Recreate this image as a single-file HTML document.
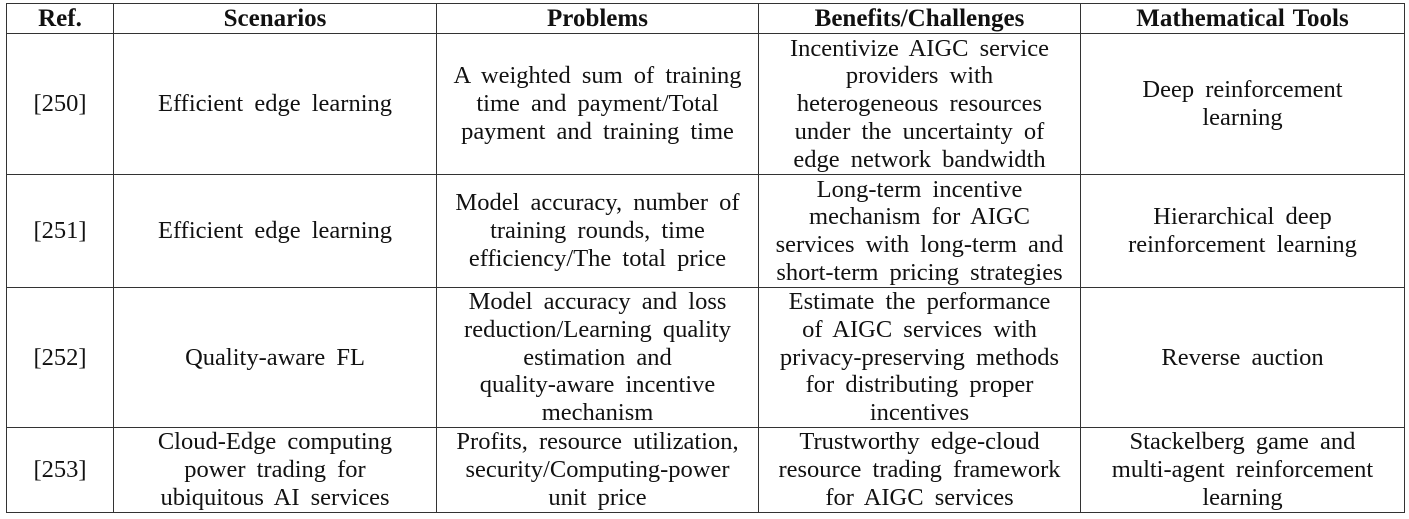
<!DOCTYPE html>
<html><head><style>
html,body{margin:0;padding:0;background:#fff;width:1409px;height:519px;overflow:hidden}
table{position:absolute;left:6px;top:3px;border-collapse:collapse;font-family:"Liberation Serif",serif;font-size:24.5px;word-spacing:5px;color:#111;line-height:27.7px}
td,th{border:1.5px solid #333;text-align:center;vertical-align:middle;padding:0 2px;white-space:nowrap}
th{font-weight:bold;height:29px;line-height:24px;font-size:25px;word-spacing:2px}
</style></head><body>
<table>
<colgroup><col style="width:107px"><col style="width:323px"><col style="width:322px"><col style="width:322px"><col style="width:324px"></colgroup>
<tr><th>Ref.</th><th>Scenarios</th><th>Problems</th><th>Benefits/Challenges</th><th>Mathematical Tools</th></tr>
<tr style="height:141px"><td>[250]</td><td>Efficient edge learning</td><td>A weighted sum of training<br>time and payment/Total<br>payment and training time</td><td>Incentivize AIGC service<br>providers with<br>heterogeneous resources<br>under the uncertainty of<br>edge network bandwidth</td><td>Deep reinforcement<br>learning</td></tr>
<tr style="height:113px"><td>[251]</td><td>Efficient edge learning</td><td>Model accuracy, number of<br>training rounds, time<br>efficiency/The total price</td><td>Long-term incentive<br>mechanism for AIGC<br>services with long-term and<br>short-term pricing strategies</td><td>Hierarchical deep<br>reinforcement learning</td></tr>
<tr style="height:140px"><td>[252]</td><td>Quality-aware FL</td><td>Model accuracy and loss<br>reduction/Learning quality<br>estimation and<br>quality-aware incentive<br>mechanism</td><td>Estimate the performance<br>of AIGC services with<br>privacy-preserving methods<br>for distributing proper<br>incentives</td><td>Reverse auction</td></tr>
<tr style="height:85px"><td>[253]</td><td>Cloud-Edge computing<br>power trading for<br>ubiquitous AI services</td><td>Profits, resource utilization,<br>security/Computing-power<br>unit price</td><td>Trustworthy edge-cloud<br>resource trading framework<br>for AIGC services</td><td>Stackelberg game and<br>multi-agent reinforcement<br>learning</td></tr>
</table>
</body></html>
